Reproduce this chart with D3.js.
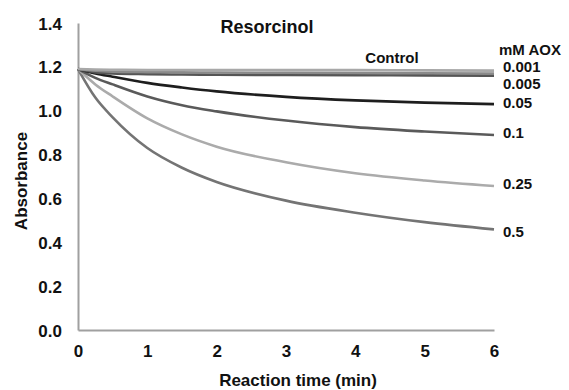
<!DOCTYPE html>
<html>
<head>
<meta charset="utf-8">
<script src="https://d3js.org/d3.v7.min.js"></script>
<style>
  body { margin: 0; background: #fff; }
  text { font-family: "Liberation Sans", Arial, sans-serif; font-weight: bold; fill: #111; }
</style>
</head>
<body>
<script>
// time points (min)
const times = [0, 0.25, 0.5, 1, 1.5, 2, 3, 4, 5, 6];

// series labels (mM AOX) and absorbance values
const seriesNames = ["Control", "0.001", "0.005", "0.05", "0.1", "0.25", "0.5"];
const control  = [1.19, 1.188, 1.187, 1.186, 1.186, 1.186, 1.185, 1.185, 1.184, 1.183];
const aox0001  = [1.19, 1.182, 1.178, 1.176, 1.175, 1.174, 1.173, 1.172, 1.171, 1.170];
const aox0005  = [1.19, 1.175, 1.170, 1.167, 1.165, 1.164, 1.163, 1.162, 1.161, 1.160];
const aox005   = [1.19, 1.170, 1.155, 1.127, 1.106, 1.088, 1.063, 1.047, 1.037, 1.030];
const aox01    = [1.19, 1.150, 1.120, 1.065, 1.025, 0.997, 0.955, 0.925, 0.905, 0.889];
const aox025   = [1.19, 1.120, 1.065, 0.965, 0.892, 0.836, 0.765, 0.715, 0.682, 0.657];
const aox05    = [1.19, 1.060, 0.970, 0.830, 0.740, 0.675, 0.590, 0.535, 0.492, 0.459];
const seriesValues = [control, aox0001, aox0005, aox005, aox01, aox025, aox05];

const xTicks = [0, 1, 2, 3, 4, 5, 6];
const yTicks = [0, 0.2, 0.4, 0.6, 0.8, 1.0, 1.2, 1.4];

const colors = ["#a8a8a8", "#8a8a8a", "#555", "#1e1e1e", "#5a5a5a", "#ababab", "#747474"];
// small vertical nudges so crowded end labels don't overlap
const labelNudge = {"0.001": -1, "0.005": 13, "0.05": 4, "0.1": 3, "0.25": 3, "0.5": 8};

const width = 569, height = 390;
const plotLeft = 78, plotRight = 494, plotTop = 23, plotBottom = 330;

const svg = d3.select("body").append("svg")
    .attr("width", width)
    .attr("height", height);

const x = d3.scaleLinear().domain([0, 6]).range([plotLeft, plotRight]);
const y = d3.scaleLinear().domain([0, 1.4]).range([plotBottom, plotTop]);

// axes (grey lines, no tick marks)
const xAxis = svg.append("g")
    .attr("transform", `translate(0,${plotBottom})`)
    .call(d3.axisBottom(x).tickValues(xTicks).tickSize(0).tickPadding(15).tickFormat(d3.format("d")));
const yAxis = svg.append("g")
    .attr("transform", `translate(${plotLeft},0)`)
    .call(d3.axisLeft(y).tickValues(yTicks).tickSize(0).tickPadding(16).tickFormat(d3.format(".1f")));

[xAxis, yAxis].forEach(a => {
    a.select(".domain").attr("stroke", "#a0a0a0").attr("stroke-width", 2);
    a.selectAll("text")
        .style("font-family", '"Liberation Sans", Arial, sans-serif')
        .style("font-weight", "bold")
        .style("font-size", "17px")
        .attr("fill", "#111");
});
yAxis.selectAll("text").attr("dy", "0.36em");

const line = d3.line()
    .x((d, i) => x(times[i]))
    .y(d => y(d))
    .curve(d3.curveMonotoneX);

// draw lines from the bottom of the stack to the top so control sits on top
svg.append("g")
    .selectAll("path")
    .data(seriesValues.map((v, i) => ({name: seriesNames[i], values: v, color: colors[i]})).reverse())
    .join("path")
        .attr("d", d => line(d.values))
        .attr("fill", "none")
        .attr("stroke", d => d.color)
        .attr("stroke-width", 2.6);

// end labels
seriesNames.forEach((name, i) => {
    if (name === "Control") return;
    const v = seriesValues[i];
    svg.append("text")
        .attr("x", x(6) + 9)
        .attr("y", y(v[v.length - 1]) + labelNudge[name])
        .style("font-size", "15px")
        .text(name);
});

svg.append("text")
    .attr("x", 392)
    .attr("y", 63)
    .attr("text-anchor", "middle")
    .style("font-size", "15px")
    .text("Control");

svg.append("text")
    .attr("x", 499)
    .attr("y", 55)
    .style("font-size", "15px")
    .text("mM AOX");

svg.append("text")
    .attr("x", 267)
    .attr("y", 33)
    .attr("text-anchor", "middle")
    .style("font-size", "18px")
    .text("Resorcinol");

svg.append("text")
    .attr("x", 298)
    .attr("y", 386)
    .attr("text-anchor", "middle")
    .style("font-size", "17px")
    .text("Reaction time (min)");

svg.append("text")
    .attr("transform", "translate(27,181) rotate(-90)")
    .attr("text-anchor", "middle")
    .style("font-size", "17px")
    .text("Absorbance");
</script>
</body>
</html>
